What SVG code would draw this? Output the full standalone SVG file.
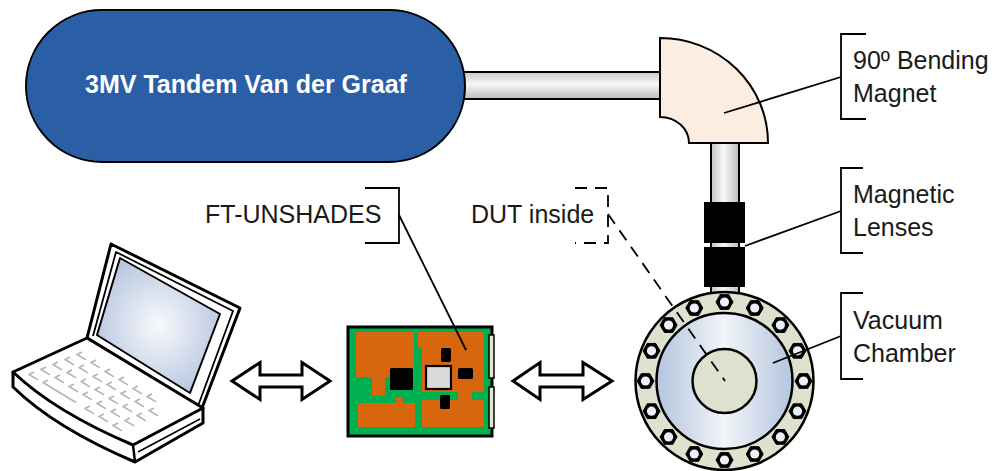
<svg xmlns="http://www.w3.org/2000/svg" width="995" height="471" viewBox="0 0 995 471">
  <style>
    .lbl { font-family: "Liberation Sans", Arial, sans-serif; font-size: 25px; fill: #1a1a1a; }
    .title { font-family: "Liberation Sans", Arial, sans-serif; font-size: 25px; font-weight: bold; fill: #ffffff; }
    .ln { fill: none; stroke: #000; stroke-width: 1.8; }
    .dash { fill: none; stroke: #000; stroke-width: 1.8; stroke-dasharray: 12 8; }
    .ol { stroke: #000; stroke-width: 2; }
    .key { fill: none; stroke: #b4b4b4; stroke-width: 1.6; stroke-linejoin: round; }
    .orange { fill: #d8660e; }
    .chip { fill: #000; }
  </style>
  <defs>
    <linearGradient id="pipeH" x1="0" y1="0" x2="0" y2="1">
      <stop offset="0" stop-color="#c9c9c9"/>
      <stop offset="0.45" stop-color="#f7f7f7"/>
      <stop offset="1" stop-color="#bdbdbd"/>
    </linearGradient>
    <linearGradient id="pipeV" x1="0" y1="0" x2="1" y2="0">
      <stop offset="0" stop-color="#c4c4c4"/>
      <stop offset="0.45" stop-color="#f7f7f7"/>
      <stop offset="1" stop-color="#bdbdbd"/>
    </linearGradient>
    <linearGradient id="disc" x1="0" y1="0" x2="1" y2="0">
      <stop offset="0" stop-color="#b3c5df"/>
      <stop offset="0.5" stop-color="#f2f4f8"/>
      <stop offset="1" stop-color="#b3c5df"/>
    </linearGradient>
    <radialGradient id="screen" cx="0.5" cy="0.5" r="0.6">
      <stop offset="0" stop-color="#f8f9fc"/>
      <stop offset="1" stop-color="#b3c2dd"/>
    </radialGradient>
    <g id="bolt">
      <polygon points="8.5,0 4.25,7.36 -4.25,7.36 -8.5,0 -4.25,-7.36 4.25,-7.36" fill="#000" stroke="#000" stroke-width="1" stroke-linejoin="round"/>
      <circle r="4.6" fill="#eaf0fa"/>
    </g>
  </defs>

  <!-- beam line pipes -->
  <g id="beamline">
    <rect x="462" y="72" width="200" height="27" fill="url(#pipeH)" class="ol"/>
    <rect x="711" y="140" width="28" height="156" fill="url(#pipeV)" class="ol"/>
  </g>

  <g id="tandem">
    <rect x="26" y="10" width="439" height="152" rx="76" ry="76" fill="#2a5fa6" class="ol"/>
    <text class="title" x="246" y="93" text-anchor="middle">3MV Tandem Van der Graaf</text>
  </g>

  <g id="magnet">
    <path d="M660,38 A108,105 0 0 1 768,143 L689,143 A29,26 0 0 0 660,117 Z" fill="#fcede1" class="ol"/>
  </g>

  <g id="lenses">
    <rect x="704" y="202" width="41" height="41" fill="#000"/>
    <rect x="704" y="247" width="41" height="40" fill="#000"/>
  </g>

  <g id="chamber">
    <circle cx="724.5" cy="381" r="89" fill="#dde1cd" stroke="#000" stroke-width="2.5"/>
    <circle cx="724.5" cy="381" r="68" fill="url(#disc)" stroke="#000" stroke-width="2.5"/>
    <circle cx="724.5" cy="381" r="32" fill="#dde1cd" stroke="#000" stroke-width="2.5"/>
    <use href="#bolt" x="724.5" y="302"/>
    <use href="#bolt" x="754.7" y="308"/>
    <use href="#bolt" x="780.4" y="325.1"/>
    <use href="#bolt" x="797.5" y="350.8"/>
    <use href="#bolt" x="803.5" y="381"/>
    <use href="#bolt" x="797.5" y="411.2"/>
    <use href="#bolt" x="780.4" y="436.9"/>
    <use href="#bolt" x="754.7" y="454"/>
    <use href="#bolt" x="724.5" y="460"/>
    <use href="#bolt" x="694.3" y="454"/>
    <use href="#bolt" x="668.6" y="436.9"/>
    <use href="#bolt" x="651.5" y="411.2"/>
    <use href="#bolt" x="645.5" y="381"/>
    <use href="#bolt" x="651.5" y="350.8"/>
    <use href="#bolt" x="668.6" y="325.1"/>
    <use href="#bolt" x="694.3" y="308"/>
  </g>

  <g id="board">
    <rect x="348" y="327" width="144" height="109" fill="#00b050" stroke="#000" stroke-width="3"/>
    <rect class="orange" x="356" y="332" width="58" height="45"/>
    <rect class="orange" x="372" y="376" width="13" height="20"/>
    <rect class="orange" x="418" y="332" width="4" height="16"/>
    <rect class="orange" x="422" y="332" width="62" height="60"/>
    <rect class="orange" x="458" y="391" width="14" height="10"/>
    <rect class="orange" x="358" y="403" width="57" height="24"/>
    <rect class="orange" x="396" y="397" width="7" height="7"/>
    <rect class="orange" x="422" y="400" width="62" height="27"/>
    <rect class="chip" x="390" y="368" width="23" height="22" rx="1.5"/>
    <rect x="426" y="366" width="25" height="23" fill="#d9d9d9" stroke="#000" stroke-width="2.2"/>
    <rect class="chip" x="441" y="348" width="10" height="14" rx="1.5"/>
    <rect class="chip" x="458" y="368" width="15" height="11" rx="1.5"/>
    <rect class="chip" x="440" y="395" width="10" height="14" rx="1.5"/>
    <rect x="489" y="335" width="5" height="43" fill="#e4e4d4" stroke="#000" stroke-width="1.5"/>
    <rect x="489" y="387" width="5" height="41" fill="#e4e4d4" stroke="#000" stroke-width="1.5"/>
  </g>

  <g id="laptop" stroke-linejoin="round">
    <!-- lid -->
    <path d="M87,338 L111,244 L240,308 L202,408 Z" fill="#fff" stroke="#000" stroke-width="3"/>
    <path d="M93,336 L116,252 L233,311 L198,406" fill="none" stroke="#000" stroke-width="1.8"/>
    <path d="M97,335 L120,258 L220,314 L190,393 Z" fill="url(#screen)" stroke="#000" stroke-width="2"/>
    <!-- base -->
    <path d="M13,372 L13,387 Q55,428 135,462 L203,423 L203,408 Z" fill="#fff" stroke="#000" stroke-width="3"/>
    <path d="M13,372 L87,338 L203,408 L133,445 Q55,412 13,372 Z" fill="#fff" stroke="#000" stroke-width="3"/>
    <path d="M133,445 L135,462" fill="none" stroke="#000" stroke-width="2.5"/>
    <path d="M138,452 L200,419" fill="none" stroke="#000" stroke-width="1.5"/>
    <!-- keys -->
    <g class="key">
      <path d="M82,352 l-5,2.5 l9,5.4 M96,360 l-5,2.5 l9,5.4 M110,369 l-5,2.5 l9,5.4 M124,377 l-5,2.5 l9,5.4 M138,386 l-5,2.5 l9,5.4 M152,394 l-5,2.5 l9,5.4"/>
      <path d="M70,357 l-5,2.5 l9,5.4 M84,365 l-5,2.5 l9,5.4 M98,374 l-5,2.5 l9,5.4 M112,382 l-5,2.5 l9,5.4 M126,391 l-5,2.5 l9,5.4 M140,399 l-5,2.5 l9,5.4 M154,408 l-5,2.5 l9,5.4"/>
      <path d="M58,362 l-5,2.5 l9,5.4 M72,370 l-5,2.5 l9,5.4 M86,379 l-5,2.5 l9,5.4 M100,387 l-5,2.5 l9,5.4 M114,396 l-5,2.5 l9,5.4 M128,404 l-5,2.5 l9,5.4 M142,413 l-5,2.5 l9,5.4"/>
      <path d="M46,367 l-5,2.5 l9,5.4 M60,375 l-5,2.5 l9,5.4 M74,384 l-5,2.5 l9,5.4 M88,392 l-5,2.5 l9,5.4 M102,401 l-5,2.5 l9,5.4 M116,409 l-5,2.5 l9,5.4 M130,418 l-5,2.5 l9,5.4"/>
      <path d="M34,372 l-5,2.5 l9,5.4 M48,380 l-5,2.5 l33,20 M90,406 l-5,2.5 l9,5.4 M104,414 l-5,2.5 l9,5.4 M118,423 l-5,2.5 l9,5.4"/>
    </g>
  </g>

  <!-- links between computer, tester and chamber -->
  <g id="connectors">
    <path d="M232,381 L260,362.5 L260,375 L302,375 L302,362.5 L330,381 L302,399.5 L302,387 L260,387 L260,399.5 Z" fill="#fff" stroke="#000" stroke-width="3"/>
    <path d="M513,381 L540,362.5 L540,375 L583,375 L583,362.5 L612,381 L583,399.5 L583,387 L540,387 L540,399.5 Z" fill="#fff" stroke="#000" stroke-width="3"/>
    <path class="ln" d="M399,215 L466,350"/>
    <path class="dash" d="M608,214 L725,381"/>
    <path class="ln" d="M724,113 L841,77"/>
    <path class="ln" d="M745,246 L841,211"/>
    <path class="ln" d="M773,363 L841,336"/>
  </g>

  <g id="label-ftunshades">
    <path class="ln" d="M365,188 L399,188 L399,243 L365,243"/>
    <text class="lbl" x="205" y="223">FT-UNSHADES</text>
  </g>
  <g id="label-dut">
    <path class="dash" d="M575,188 L608,188 L608,243 L575,243" stroke-dasharray="10 7"/>
    <text class="lbl" x="471" y="223">DUT inside</text>
  </g>
  <g id="label-magnet">
    <path class="ln" d="M866,34 L841,34 L841,119 L866,119"/>
    <text class="lbl" x="853" y="69">90º Bending</text>
    <text class="lbl" x="853" y="102">Magnet</text>
  </g>
  <g id="label-lenses">
    <path class="ln" d="M863,168 L841,168 L841,253 L863,253"/>
    <text class="lbl" x="853" y="203">Magnetic</text>
    <text class="lbl" x="853" y="236">Lenses</text>
  </g>
  <g id="label-chamber">
    <path class="ln" d="M863,293 L841,293 L841,379 L863,379"/>
    <text class="lbl" x="853" y="329">Vacuum</text>
    <text class="lbl" x="853" y="362">Chamber</text>
  </g>
</svg>
